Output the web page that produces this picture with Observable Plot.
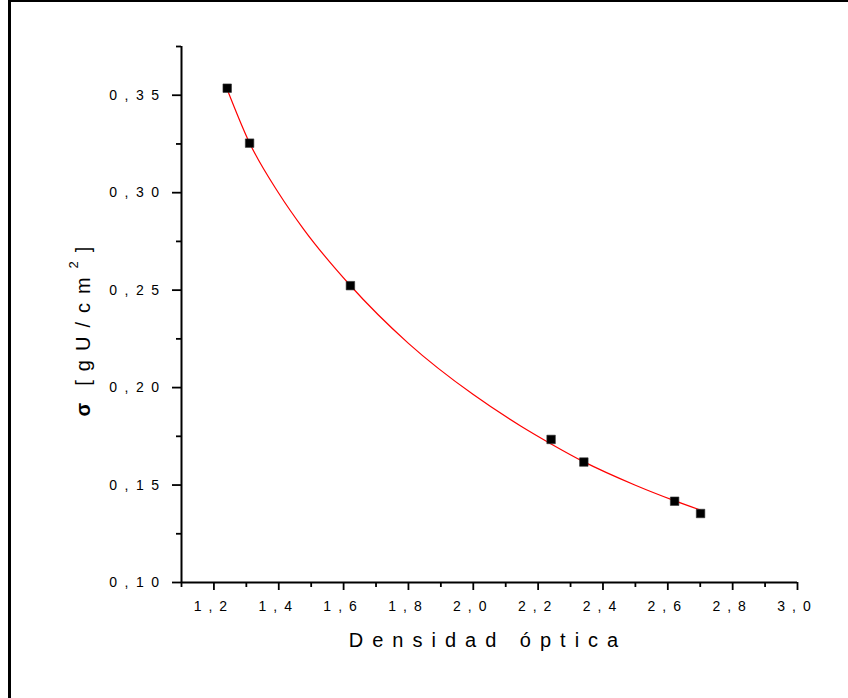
<!DOCTYPE html>
<html><head><meta charset="utf-8">
<script src="https://cdn.jsdelivr.net/npm/d3@7"></script>
<script src="https://cdn.jsdelivr.net/npm/@observablehq/plot@0.6"></script>
<style>
body{margin:0;background:#fff;}
#wrap{position:relative;width:848px;height:698px;overflow:hidden;background:#fff;}
#chart{position:absolute;left:0;top:0;}
#frame{position:absolute;left:8px;top:0;width:900px;height:800px;border-left:3px solid #000;border-top:2px solid #000;box-sizing:border-box;pointer-events:none;}
</style></head><body>
<div id="wrap"><div id="chart"></div><div id="frame"></div></div>
<script>
// Measured points
const densidad = [1.241, 1.310, 1.621, 2.240, 2.341, 2.621, 2.701];
const sigma = [0.3536, 0.3254, 0.2523, 0.1734, 0.1618, 0.1417, 0.1354];
// Red fitted curve
const fitX = [1.241, 1.31, 1.40, 1.477, 1.62, 1.80, 2.00, 2.146, 2.24, 2.34, 2.50, 2.62, 2.70];
const fitY = [0.3530, 0.3255, 0.2997, 0.2812, 0.2525, 0.2227, 0.1964, 0.1803, 0.1711, 0.1620, 0.1499, 0.1420, 0.1372];
// Ticks
const xMajorTicks = [1.2, 1.4, 1.6, 1.8, 2.0, 2.2, 2.4, 2.6, 2.8, 3.0];
const xMinorTicks = [1.1, 1.3, 1.5, 1.7, 1.9, 2.1, 2.3, 2.5, 2.7, 2.9];
const yMajorTicks = [0.10, 0.15, 0.20, 0.25, 0.30, 0.35];
const yMinorTicks = [0.125, 0.175, 0.225, 0.275, 0.325, 0.375];
const xDomain = [1.1, 3.0];
const yDomain = [0.10, 0.375];
// Texts
const xTitle = "Densidad óptica";
const yTitleSymbol = "σ";
const yTitleUnit = "[gU/cm";
const yTitleExp = "2";
const yTitleEnd = "]";

const points = densidad.map((x, i) => ({x, y: sigma[i]}));
const fit = fitX.map((x, i) => ({x, y: fitY[i]}));
const ff = (d, n) => d.toFixed(n).replace(".", ",");
const FONT = "'Liberation Sans', Arial, Helvetica, sans-serif";

const plot = Plot.plot({
  width: 848, height: 698,
  marginLeft: 181, marginRight: 51, marginTop: 46, marginBottom: 116,
  style: {fontFamily: FONT, fontSize: "14px", color: "#000", background: "transparent"},
  x: {domain: xDomain, label: null},
  y: {domain: yDomain, label: null},
  marks: [
    Plot.axisX(xMajorTicks, {tickSize: 8, tickPadding: 11, strokeWidth: 1.8, fontSize: 14, tickFormat: d => ff(d, 1)}),
    Plot.axisX(xMinorTicks, {tickSize: 5, strokeWidth: 1.8, tickFormat: () => ""}),
    Plot.axisY(yMajorTicks, {tickSize: 9, tickPadding: 6, strokeWidth: 1.8, fontSize: 14, tickFormat: d => ff(d, 2)}),
    Plot.axisY(yMinorTicks, {tickSize: 5, strokeWidth: 1.8, tickFormat: () => ""}),
    Plot.ruleX([xDomain[0]], {y1: yDomain[0], y2: yDomain[1], strokeWidth: 2}),
    Plot.ruleY([yDomain[0]], {x1: xDomain[0], x2: xDomain[1], strokeWidth: 2}),
    Plot.line(fit, {x: "x", y: "y", stroke: "#ff0000", strokeWidth: 1.2, curve: "monotone-x"}),
    Plot.dot(points, {x: "x", y: "y", symbol: "square", r: 4.8, fill: "#000", stroke: "#333", strokeWidth: 0.6})
  ]
});
document.getElementById("chart").appendChild(plot);

const svg = d3.select(plot);
svg.selectAll('g[aria-label="x-axis tick label"] text').style("letter-spacing", "7px").style("font-size", "14px");
svg.selectAll('g[aria-label="y-axis tick label"] text').style("letter-spacing", "7.5px").style("font-size", "14px");

// Axis titles
svg.append("text")
  .attr("x", 488).attr("y", 647)
  .attr("text-anchor", "middle")
  .style("font-family", FONT).style("font-size", "20px").style("letter-spacing", "9px")
  .attr("fill", "#000")
  .text(xTitle);

const yt = svg.append("text")
  .attr("transform", "translate(90,327) rotate(-90)")
  .attr("text-anchor", "middle")
  .style("font-family", FONT).style("font-size", "20px").style("letter-spacing", "9px")
  .attr("fill", "#000");
yt.append("tspan").style("font-weight", "bold").text(yTitleSymbol);
yt.append("tspan").attr("dx", 8).text(yTitleUnit);
yt.append("tspan").attr("dy", -12).style("font-size", "13px").text(yTitleExp);
yt.append("tspan").attr("dy", 12).text(yTitleEnd);
</script>
</body></html>
